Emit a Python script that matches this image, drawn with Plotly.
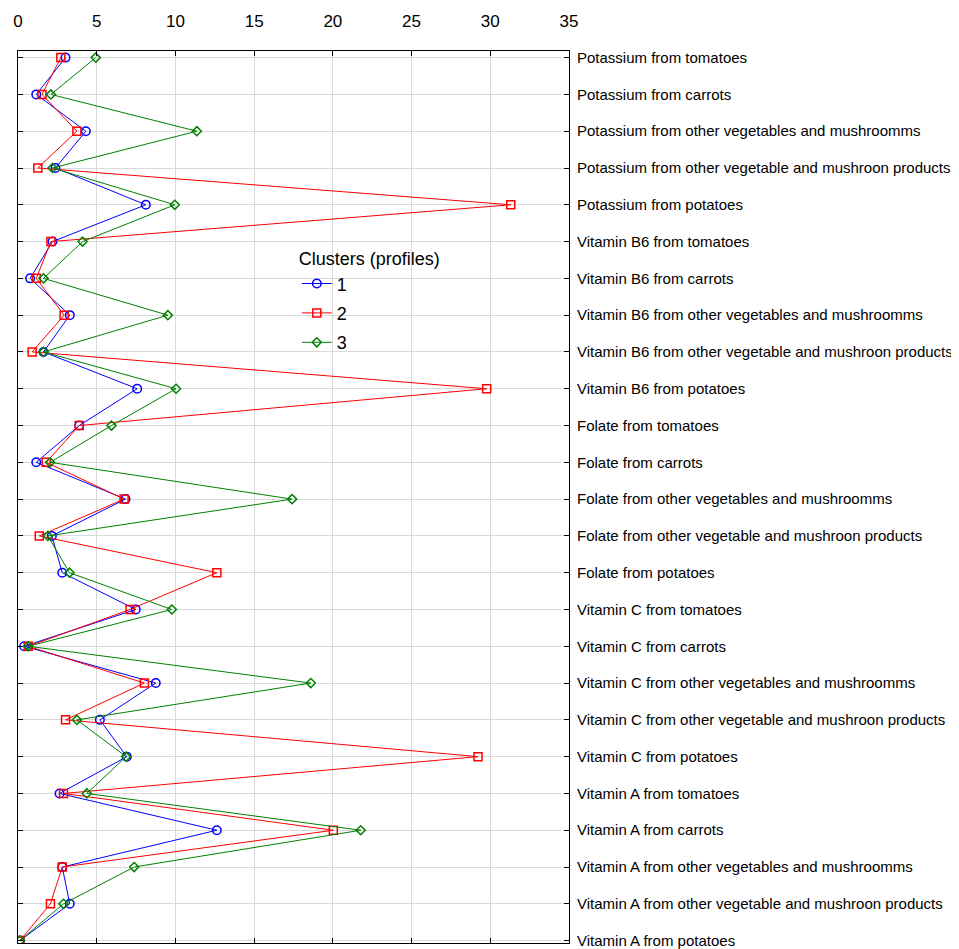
import plotly.graph_objects as go

categories = [
    "Potassium from tomatoes",
    "Potassium from carrots",
    "Potassium from other vegetables and mushroomms",
    "Potassium from other vegetable and mushroon products",
    "Potassium from potatoes",
    "Vitamin B6 from tomatoes",
    "Vitamin B6 from carrots",
    "Vitamin B6 from other vegetables and mushroomms",
    "Vitamin B6 from other vegetable and mushroon products",
    "Vitamin B6 from potatoes",
    "Folate from tomatoes",
    "Folate from carrots",
    "Folate from other vegetables and mushroomms",
    "Folate from other vegetable and mushroon products",
    "Folate from potatoes",
    "Vitamin C from tomatoes",
    "Vitamin C from carrots",
    "Vitamin C from other vegetables and mushroomms",
    "Vitamin C from other vegetable and mushroon products",
    "Vitamin C from potatoes",
    "Vitamin A from tomatoes",
    "Vitamin A from carrots",
    "Vitamin A from other vegetables and mushroomms",
    "Vitamin A from other vegetable and mushroon products",
    "Vitamin A from potatoes",
]

cluster1 = [3.02, 1.16, 4.31, 2.38, 8.12, 2.19, 0.77, 3.29, 1.62, 7.57,
            3.89, 1.16, 6.83, 2.15, 2.81, 7.48, 0.39, 8.75, 5.20, 6.91,
            2.64, 12.63, 2.81, 3.29, 0.12]
cluster2 = [2.72, 1.52, 3.74, 1.26, 31.30, 2.09, 1.16, 2.93, 0.90, 29.77,
            3.89, 1.79, 6.74, 1.35, 12.63, 7.12, 0.65, 8.03, 3.02, 29.22,
            2.89, 20.03, 2.81, 2.06, 0.12]
cluster3 = [4.94, 2.09, 11.36, 2.19, 9.96, 4.10, 1.62, 9.52, 1.62, 10.04,
            5.94, 2.04, 17.41, 1.90, 3.27, 9.77, 0.65, 18.60, 3.74, 6.87,
            4.37, 21.77, 7.38, 2.89, 0.12]

series_names = ["1", "2", "3"]
x_ticks = [0, 5, 10, 15, 20, 25, 30, 35]

styles = [
    dict(color="#0000ff", symbol="circle-open", size=8.5),
    dict(color="#ff0000", symbol="square-open", size=8),
    dict(color="#008000", symbol="diamond-open", size=7),
]

fig = go.Figure()
for name, vals, st in zip(series_names, [cluster1, cluster2, cluster3], styles):
    fig.add_trace(go.Scatter(
        x=vals, y=categories, name=name, mode="lines+markers",
        legendgroup=name,
        line=dict(color=st["color"], width=1),
        marker=dict(symbol=st["symbol"], size=st["size"], color=st["color"],
                    line=dict(width=1.5, color=st["color"])),
    ))

axis_common = dict(showline=True, linecolor="black", linewidth=1, mirror="ticks",
                   ticks="inside", ticklen=5, tickcolor="black", automargin=False,
                   showgrid=True, gridcolor="#d9d9d9", gridwidth=1, zeroline=False)

fig.update_layout(
    width=951, height=941,
    margin=dict(l=10, r=390, t=43, b=6),
    plot_bgcolor="white", paper_bgcolor="white",
    font=dict(family="Liberation Sans, Arial, sans-serif", color="black"),
    xaxis=dict(side="top", range=[0, 35], tickvals=x_ticks,
               tickfont=dict(size=17), ticklabelstandoff=16, **axis_common),
    yaxis=dict(side="right", type="category", categoryorder="array",
               categoryarray=categories, range=[24.065, -0.18],
               tickfont=dict(size=15), ticklabelstandoff=4, **axis_common),
    legend=dict(title=dict(text="Clusters (profiles)", font=dict(size=18)),
                font=dict(size=18), x=0.506, y=0.786, xanchor="left", yanchor="top",
                bgcolor="rgba(0,0,0,0)", tracegroupgap=3),
)

fig.write_html("out.html")
